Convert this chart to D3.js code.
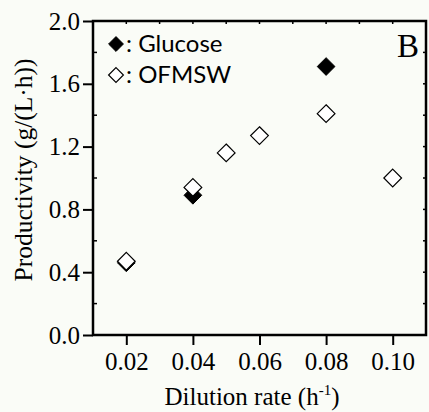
<!DOCTYPE html>
<html>
<head>
<meta charset="utf-8">
<script src="https://cdn.jsdelivr.net/npm/d3@7"></script>
<style>
  html, body { margin: 0; padding: 0; background: #fafcf7; }
  svg { display: block; }
</style>
</head>
<body>
<svg id="chart" width="429" height="412"></svg>
<script>
// Productivity vs. dilution rate
const glucoseRates = [0.02, 0.04, 0.08];
const glucoseProductivity = [0.46, 0.89, 1.71];
const ofmswRates = [0.02, 0.04, 0.05, 0.06, 0.08, 0.10];
const ofmswProductivity = [0.47, 0.94, 1.16, 1.27, 1.41, 1.00];
const xTicks = [0.02, 0.04, 0.06, 0.08, 0.10];
const yTicks = [0.0, 0.4, 0.8, 1.2, 1.6, 2.0];

const svg = d3.select("#chart");
const margin = { left: 93, right: 3, top: 21, bottom: 77 };
const W = 429, H = 412;

const x = d3.scaleLinear().domain([0.01, 0.11]).range([margin.left, W - margin.right]);
const y = d3.scaleLinear().domain([0, 2.0]).range([H - margin.bottom, margin.top]);

const serif = "'Liberation Serif', 'Times New Roman', serif";
const sans = "Lato, 'Open Sans', sans-serif";

// minor tick positions
const xMinor = d3.range(0.01, 0.1101, 0.01).map(v => +v.toFixed(3)).filter(v => !xTicks.some(t => Math.abs(t - v) < 1e-6));
const yMinor = d3.range(0.2, 2.0, 0.4).map(v => +v.toFixed(2));

// bottom axis
const xAxis = d3.axisBottom(x).tickValues(xTicks).tickFormat(d3.format(".2f")).tickSizeOuter(0).tickSize(10).tickPadding(7);
const gx = svg.append("g").attr("transform", `translate(0,${y(0)})`).call(xAxis);
gx.select(".domain").remove();
gx.selectAll(".tick line").attr("stroke", "#000").attr("stroke-width", 2);
gx.selectAll(".tick text").attr("font-family", serif).attr("font-size", 25).attr("fill", "#000");

// left axis
const yAxis = d3.axisLeft(y).tickValues(yTicks).tickFormat(d3.format(".1f")).tickSizeOuter(0).tickSize(10).tickPadding(3);
const gy = svg.append("g").attr("transform", `translate(${x(0.01)},0)`).call(yAxis);
gy.select(".domain").remove();
gy.selectAll(".tick line").attr("stroke", "#000").attr("stroke-width", 2);
gy.selectAll(".tick text").attr("font-family", serif).attr("font-size", 25).attr("fill", "#000");

// minor ticks on the frame
const minor = svg.append("g").attr("stroke", "#000").attr("stroke-width", 1.5);
yMinor.forEach(v => {
  minor.append("line").attr("x1", x(0.01)).attr("x2", x(0.01) + 4).attr("y1", y(v)).attr("y2", y(v));
});
xMinor.concat(xTicks).forEach(v => {
  minor.append("line").attr("x1", x(v)).attr("x2", x(v)).attr("y1", y(2.0)).attr("y2", y(2.0) + 3);
});
yTicks.concat(yMinor).forEach(v => {
  minor.append("line").attr("x1", x(0.11)).attr("x2", x(0.11) - 3).attr("y1", y(v)).attr("y2", y(v));
});

// plot frame
svg.append("rect")
  .attr("x", x(0.01)).attr("y", y(2.0))
  .attr("width", x(0.11) - x(0.01)).attr("height", y(0) - y(2.0))
  .attr("fill", "none").attr("stroke", "#000").attr("stroke-width", 2.5);

// markers
const diamond = d3.symbol().type(d3.symbolDiamond2).size(200);

svg.append("g").selectAll("path").data(glucoseRates.map((r, i) => [r, glucoseProductivity[i]]))
  .join("path")
  .attr("d", diamond)
  .attr("transform", d => `translate(${x(d[0])},${y(d[1])})`)
  .attr("fill", "#000").attr("stroke", "#000").attr("stroke-width", 1);

svg.append("g").selectAll("path").data(ofmswRates.map((r, i) => [r, ofmswProductivity[i]]))
  .join("path")
  .attr("d", diamond)
  .attr("transform", d => `translate(${x(d[0])},${y(d[1])})`)
  .attr("fill", "#fff").attr("stroke", "#000").attr("stroke-width", 1.2);

// legend
const legendDiamond = d3.symbol().type(d3.symbolDiamond2).size(140);
svg.append("path").attr("d", legendDiamond).attr("transform", "translate(116,44)")
  .attr("fill", "#000").attr("stroke", "#000");
svg.append("text").attr("x", 126).attr("y", 52).attr("font-family", sans).attr("font-size", 24)
  .text(": Glucose");
svg.append("path").attr("d", legendDiamond).attr("transform", "translate(116,75)")
  .attr("fill", "#fff").attr("stroke", "#000").attr("stroke-width", 1.2);
svg.append("text").attr("x", 126).attr("y", 83).attr("font-family", sans).attr("font-size", 24)
  .text(": OFMSW");

// panel letter
svg.append("text").attr("x", 419).attr("y", 57).attr("text-anchor", "end")
  .attr("font-family", serif).attr("font-size", 33).text("B");

// axis titles
const xt = svg.append("text").attr("x", 252).attr("y", 405).attr("text-anchor", "middle")
  .attr("font-family", serif).attr("font-size", 25);
xt.append("tspan").text("Dilution rate (h");
xt.append("tspan").attr("dy", -10).attr("font-size", 15).text("-1");
xt.append("tspan").attr("dy", 10).text(")");

svg.append("text").attr("transform", "translate(32,170) rotate(-90)").attr("text-anchor", "middle")
  .attr("font-family", serif).attr("font-size", 25.5)
  .text("Productivity (g/(L\u00b7h))");
</script>
</body>
</html>
